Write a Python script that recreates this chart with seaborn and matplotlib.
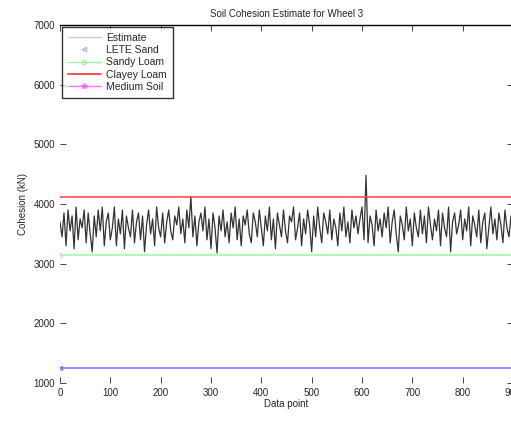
import numpy as np
import pandas as pd
import seaborn as sns
import matplotlib.pyplot as plt
from matplotlib.lines import Line2D

# Data
estimate = [
    3700, 3450, 3850, 3300, 3900, 3550, 3800, 3250, 3950, 3400, 3750, 3600, 3900, 3350, 3850, 3500, 3200, 3800, 3450, 3900,
    3550, 3950, 3300, 3700, 3850, 3400, 3600, 3950, 3300, 3750, 3500, 3900, 3250, 3800, 3600, 3450, 3900, 3350, 3700, 3850,
    3400, 3800, 3200, 3650, 3900, 3500, 3750, 3300, 3950, 3600, 3450, 3850, 3350, 3700, 3900, 3550, 3400, 3800, 3650, 3950,
    3500, 3750, 3350, 3900, 3600, 4130, 3450, 3800, 3300, 3700, 3850, 3550, 3950, 3400, 3750, 3250, 3850, 3600, 3180, 3800,
    3550, 3900, 3450, 3700, 3350, 3850, 3600, 3950, 3400, 3750, 3300, 3800, 3650, 3900, 3500, 3350, 3850, 3700, 3450, 3900,
    3600, 3300, 3800, 3550, 3950, 3400, 3750, 3250, 3850, 3650, 3450, 3900, 3550, 3350, 3800, 3700, 3950, 3400, 3600, 3850,
    3300, 3750, 3500, 3900, 3650, 3200, 3800, 3450, 3950, 3600, 3350, 3850, 3700, 3500, 3900, 3400, 3750, 3600, 3300, 3850,
    3550, 3950, 3450, 3700, 3350, 3900, 3600, 3800, 3500, 3750, 3950, 3400, 4480, 3350, 3800, 3650, 3300, 3900, 3550, 3750,
    3450, 3850, 3600, 3950, 3350, 3700, 3900, 3500, 3200, 3800, 3650, 3400, 3950, 3550, 3750, 3300, 3850, 3600, 3450, 3900,
    3500, 3800, 3350, 3950, 3650, 3400, 3750, 3550, 3900, 3300, 3850, 3600, 3450, 3950, 3200, 3700, 3850, 3500, 3650, 3900,
    3400, 3750, 3550, 3950, 3300, 3800, 3650, 3450, 3900, 3350, 3700, 3850, 3250, 3600, 3950, 3500, 3750, 3400, 3850, 3650,
    3350, 3900, 3600, 3450, 3800, 3550,
]
points = list(range(0, 901, 4))

soil_names = ["LETE Sand", "Sandy Loam", "Clayey Loam", "Medium Soil"]
soil_cohesion = [1250, 3150, 4120, 6400]
soil_colors = ["#7070ff", "#a0f5a0", "#ff4040", "#ff70ff"]
soil_markers = ["<", "o", "", "*"]

x_ticks = list(range(0, 901, 100))
y_ticks = list(range(1000, 7001, 1000))

sns.set_style("white")
plt.rcParams["font.family"] = ["Liberation Sans", "DejaVu Sans"]

fig = plt.figure(figsize=(5.11, 4.22), dpi=100)
ax = fig.add_axes([0.1174, 0.0924, 0.8865, 0.8483])

est = pd.DataFrame({"point": points, "cohesion": estimate})
sns.lineplot(data=est, x="point", y="cohesion", ax=ax, color="0.2", linewidth=0.9)

for name, val, col, mk in zip(soil_names, soil_cohesion, soil_colors, soil_markers):
    df = pd.DataFrame({"point": [points[0], points[-1]], "cohesion": [val, val]})
    if name == "Medium Soil":
        sns.lineplot(data=df, x="point", y="cohesion", ax=ax, color=col,
                     linestyle="", marker="_", markersize=5)
    else:
        sns.lineplot(data=df, x="point", y="cohesion", ax=ax, color=col,
                     linewidth=1.1, marker=mk if mk else None, markersize=3,
                     markevery=[0], markerfacecolor="none", markeredgecolor=col)

ax.set_xticks(x_ticks)
ax.set_yticks(y_ticks)
ax.set_xlim(0, 900)
ax.set_ylim(1000, 7000)
ax.tick_params(direction="in", length=4, width=0.6, labelsize=7, colors="0.15",
               top=True, right=True, bottom=True, left=True)
for side in ["left", "bottom"]:
    ax.spines[side].set_visible(False)
ax.spines["top"].set_color("black")
ax.spines["top"].set_linewidth(1.0)
ax.spines["right"].set_color("black")

ax.set_title("Soil Cohesion Estimate for Wheel 3", fontsize=7, color="0.15", pad=6)
ax.set_xlabel("Data point", fontsize=7, color="0.15", labelpad=1)
ax.set_ylabel("Cohesion (kN)", fontsize=7, color="0.15", labelpad=4)

handles = [
    Line2D([], [], color="0.8", linewidth=1),
    Line2D([], [], color="#b0b0ff", linestyle="", marker="<", markersize=3, markerfacecolor="none"),
    Line2D([], [], color="#a0f5a0", linewidth=1, marker="o", markersize=3, markerfacecolor="none"),
    Line2D([], [], color="#ff4040", linewidth=1.3),
    Line2D([], [], color="#ff70ff", linewidth=1, marker="*", markersize=4),
]
labels = ["Estimate"] + soil_names
leg = ax.legend(handles, labels, loc="upper left", fontsize=7.5, frameon=True, fancybox=False,
                edgecolor="black", borderaxespad=0.15, handlelength=3.2, labelspacing=0.22,
                borderpad=0.6, handletextpad=0.5)
leg.get_frame().set_linewidth(1.0)
for t in leg.get_texts():
    t.set_color("0.15")

fig.savefig("out.png", dpi=100)
